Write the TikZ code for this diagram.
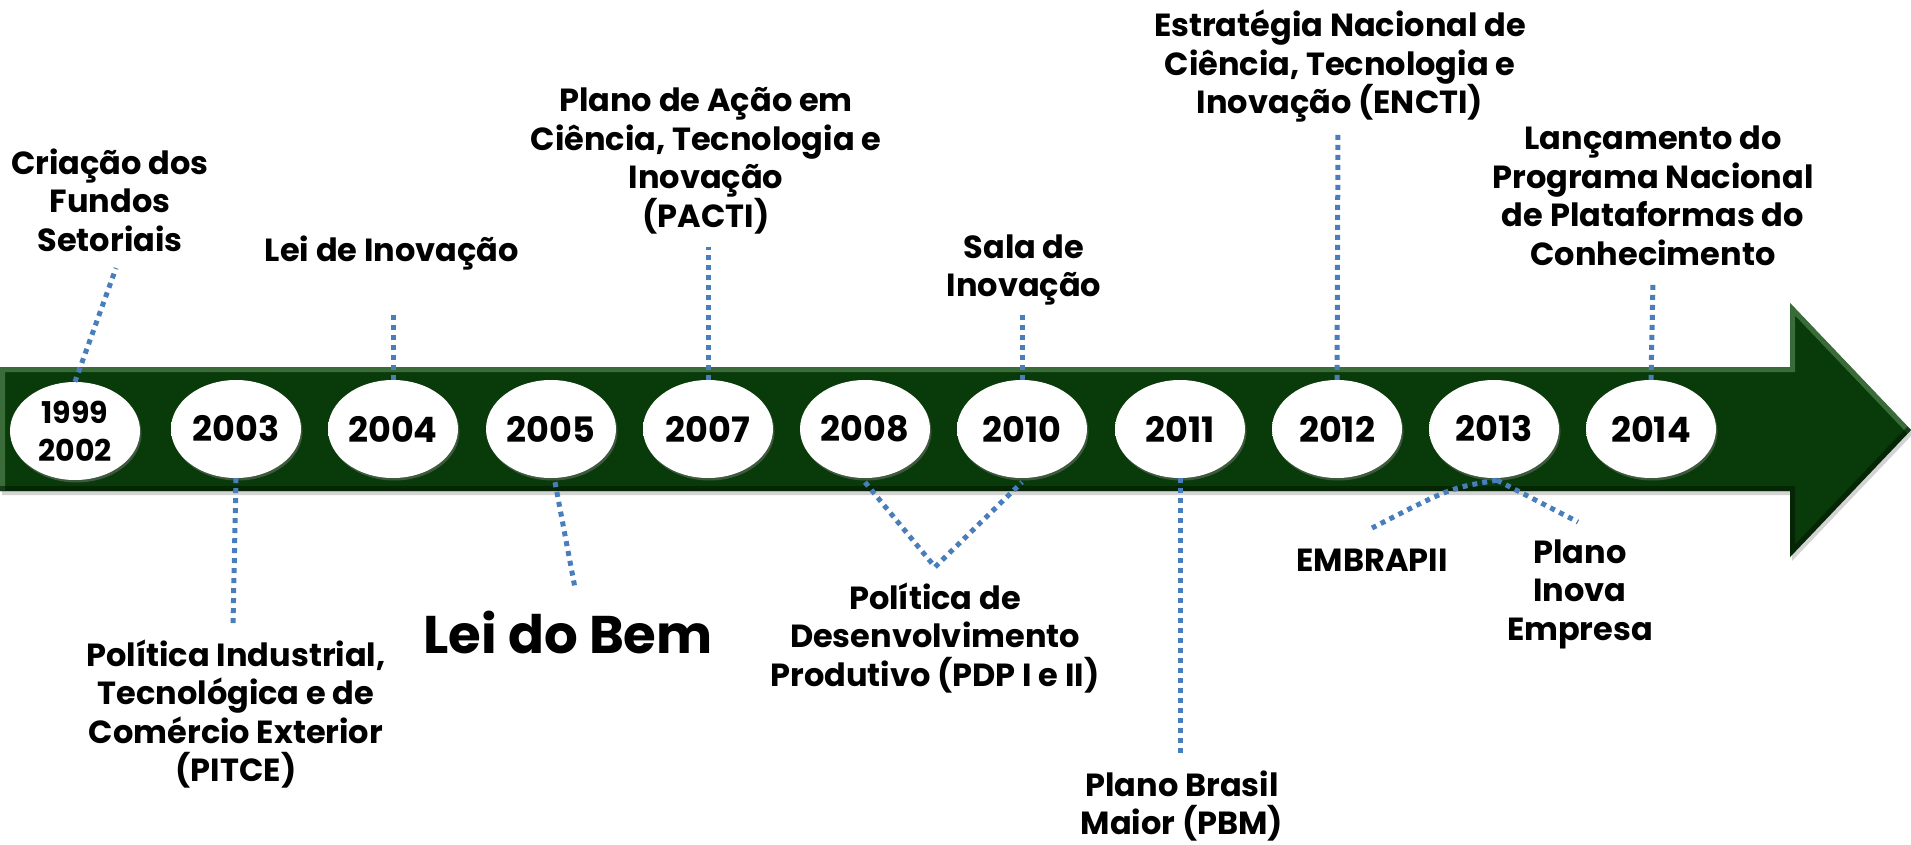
\documentclass[tikz,border=0pt]{standalone}
\usepackage{fontspec}
\setmainfont{Poppins}
\usetikzlibrary{shapes.geometric,shadows}
\definecolor{arrowgreen}{RGB}{9,58,9}
\definecolor{bevellight}{RGB}{80,130,80}
\definecolor{beveldark}{RGB}{2,26,2}
\definecolor{dotblue}{RGB}{74,126,187}
\pgfdeclareradialshading{ballshade}{\pgfpoint{0bp}{0bp}}{color(0bp)=(white); color(32bp)=(white); color(42bp)=(white!88!black); color(50bp)=(white!50!black); color(72bp)=(white!50!black)}
\tikzset{
  yearnode/.style={ellipse, minimum width=130pt, minimum height=98pt, inner sep=0pt, align=center,
    shading=ballshade, drop shadow={opacity=0.45, shadow xshift=1.5pt, shadow yshift=-2.5pt},
    font=\fontsize{35}{40}\selectfont\bfseries},
  lbl/.style={align=center, inner sep=0pt, font=\fontsize{32}{38.5}\selectfont\bfseries},
  dotline/.style={draw=dotblue, line width=5pt, dash pattern=on 5pt off 5pt},
}
\begin{document}
\begin{tikzpicture}[x=1pt,y=-1pt]
\useasboundingbox (0,0) rectangle (1911,845);
% arrow
\fill[arrowgreen, drop shadow={opacity=0.35, shadow xshift=2pt, shadow yshift=-4pt}]
  (0,367) -- (1790,367) -- (1790,303) -- (1911,430) -- (1790,557) -- (1790,491) -- (0,491) -- cycle;
\begin{scope}
  \clip (0,367) -- (1790,367) -- (1790,303) -- (1911,430) -- (1790,557) -- (1790,491) -- (0,491) -- cycle;
  \draw[bevellight, line width=10pt, opacity=0.7] (0,491) -- (0,367) -- (1790,367) -- (1790,303) -- (1911,430);
  \draw[beveldark, line width=10pt, opacity=0.6] (1911,430) -- (1790,557) -- (1790,491) -- (0,491);
\end{scope}
% years
\node[yearnode, font=\fontsize{30}{38}\selectfont\bfseries] (y1999) at (75,431) {1999\\2002};
\node[yearnode] (y2003) at (236,429) {2003};
\node[yearnode] (y2004) at (393,429) {2004};
\node[yearnode] (y2005) at (551,429) {2005};
\node[yearnode] (y2007) at (708,429) {2007};
\node[yearnode] (y2008) at (865,429) {2008};
\node[yearnode] (y2010) at (1022,429) {2010};
\node[yearnode] (y2011) at (1180,429) {2011};
\node[yearnode] (y2012) at (1337,429) {2012};
\node[yearnode] (y2013) at (1494,429) {2013};
\node[yearnode] (y2014) at (1651,429) {2014};
% labels
\node[lbl] (fundos) at (110,200) {Criação dos\\Fundos\\Setoriais};
\node[lbl] (leiinov) at (392,253) {Lei de Inovação};
\node[lbl] (pacti) at (706,161) {Plano de Ação em\\Ciência, Tecnologia e\\Inovação\\(PACTI)};
\node[lbl] (sala) at (1024,270) {Sala de\\Inovação};
\node[lbl] (encti) at (1340,66) {Estratégia Nacional de\\Ciência, Tecnologia e\\Inovação (ENCTI)};
\node[lbl] (lanc) at (1653,196) {Lançamento do\\Programa Nacional\\de Plataformas do\\Conhecimento};
\node[lbl] (pitce) at (236,714) {Política Industrial,\\Tecnológica e de\\Comércio Exterior\\(PITCE)};
\node[lbl, font=\fontsize{53}{60}\selectfont\bfseries] (leibem) at (568,632) {Lei do Bem};
\node[lbl] (pdp) at (935,638) {Política de\\Desenvolvimento\\Produtivo (PDP I e II)};
\node[lbl] (pbm) at (1182,806) {Plano Brasil\\Maior (PBM)};
\node[lbl] (embrapii) at (1372,560) {EMBRAPII};
\node[lbl] (inova) at (1580,594) {Plano\\Inova\\Empresa};
% connector ends
\coordinate (c1999) at (116,268);
\coordinate (c2003) at (233,624);
\coordinate (c2004) at (393,311);
\coordinate (c2005) at (575,588);
\coordinate (c2007) at (708,247);
\coordinate (cpdp) at (935,567);
\coordinate (c2010) at (1022,314);
\coordinate (c2011) at (1180,757);
\coordinate (c2012) at (1338,130);
\coordinate (cemb) at (1372,528);
\coordinate (cinova) at (1578,522);
\coordinate (c2014) at (1653,282);
% connectors
\draw[dotline] (y1999.north) -- (c1999);
\draw[dotline] (y2003.south) -- (c2003);
\draw[dotline] (y2004.north) -- (c2004);
\draw[dotline] ([xshift=4pt,yshift=-4pt]y2005.south) -- (c2005);
\draw[dotline] (y2007.north) -- (c2007);
\draw[dotline] ([yshift=-4pt]y2008.south) -- (cpdp) -- ([yshift=-4pt]y2010.south);
\draw[dotline] (y2010.north) -- (c2010);
\draw[dotline] (y2011.south) -- (c2011);
\draw[dotline] (y2012.north) -- (c2012);
\draw[dotline] ([xshift=3pt,yshift=-2pt]y2013.south) .. controls (1450,488) .. (cemb);
\draw[dotline] ([xshift=3pt,yshift=-2pt]y2013.south) -- (cinova);
\draw[dotline] (y2014.north) -- (c2014);
\end{tikzpicture}
\end{document}
